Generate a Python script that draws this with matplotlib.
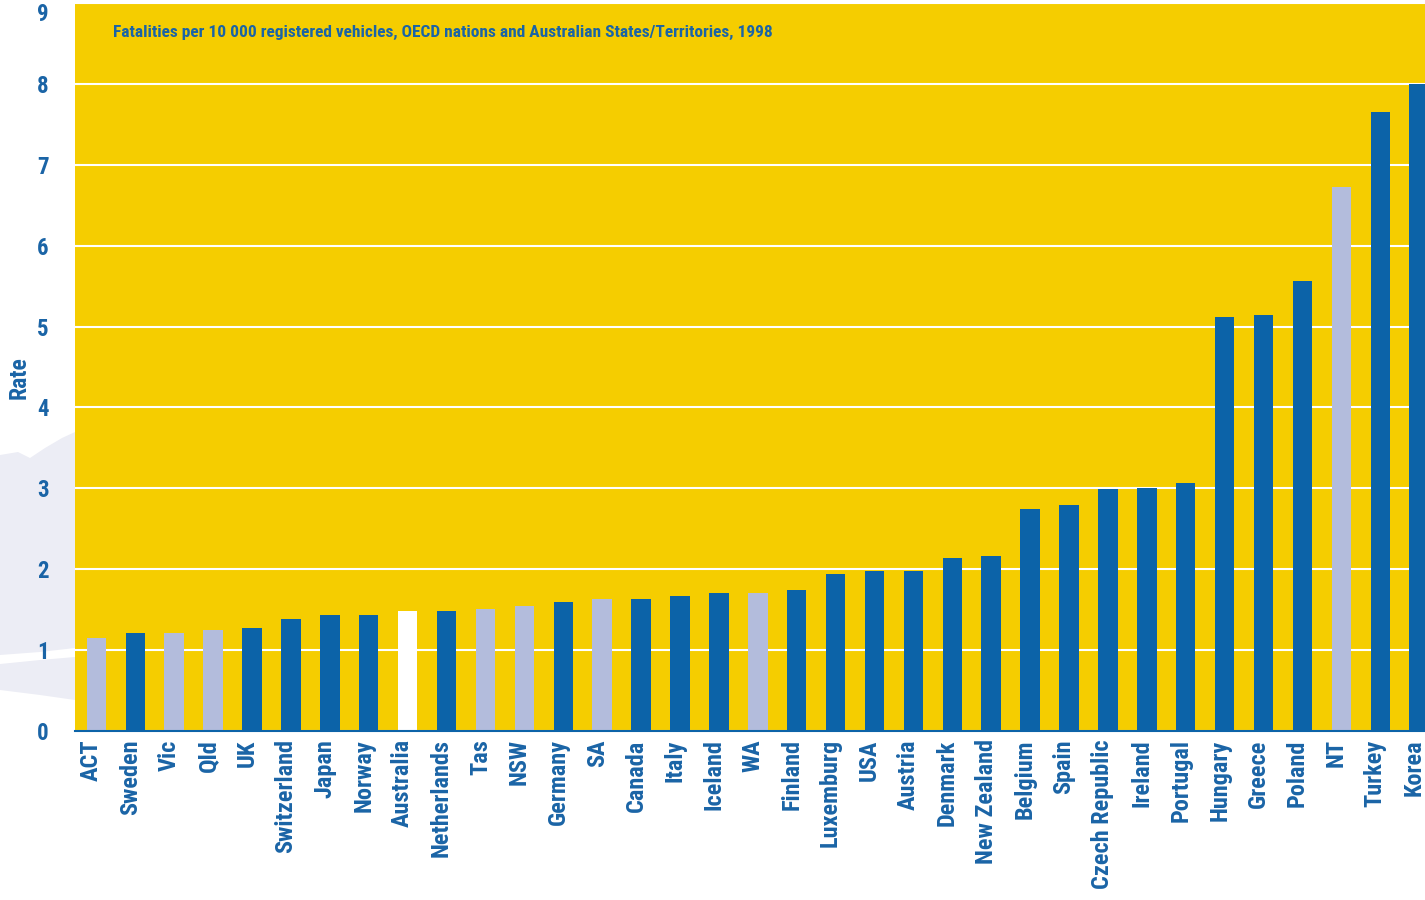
import numpy as np
import matplotlib.pyplot as plt
import matplotlib.transforms as mtransforms
from matplotlib import font_manager
from matplotlib.patches import Polygon

countries = ["ACT", "Sweden", "Vic", "Qld", "UK", "Switzerland", "Japan", "Norway",
             "Australia", "Netherlands", "Tas", "NSW", "Germany", "SA", "Canada", "Italy",
             "Iceland", "WA", "Finland", "Luxemburg", "USA", "Austria", "Denmark",
             "New Zealand", "Belgium", "Spain", "Czech Republic", "Ireland", "Portugal",
             "Hungary", "Greece", "Poland", "NT", "Turkey", "Korea"]
rates = [1.15, 1.21, 1.21, 1.25, 1.27, 1.38, 1.43, 1.43, 1.48, 1.48, 1.51, 1.55, 1.59,
         1.63, 1.63, 1.67, 1.70, 1.70, 1.74, 1.94, 1.98, 1.98, 2.14, 2.16, 2.74, 2.80,
         2.99, 3.01, 3.06, 5.12, 5.14, 5.56, 6.73, 7.65, 8.0]
# 'state' = Australian state/territory, 'aus' = national total, 'oecd' = other
groups = ["state", "oecd", "state", "state", "oecd", "oecd", "oecd", "oecd",
          "aus", "oecd", "state", "state", "oecd", "state", "oecd", "oecd",
          "oecd", "state", "oecd", "oecd", "oecd", "oecd", "oecd",
          "oecd", "oecd", "oecd", "oecd", "oecd", "oecd",
          "oecd", "oecd", "oecd", "state", "oecd", "oecd"]

title = "Fatalities per 10 000 registered vehicles, OECD nations and Australian States/Territories, 1998"

blue = "#0c63a8"
text_blue = "#1a64a6"
colors = {"oecd": blue, "state": "#b3bcdc", "aus": "white"}
yellow = "#f5cd00"

# look for a narrow/condensed bold face, since the original uses one
names = {f.name for f in font_manager.fontManager.ttflist}
picked = None
for cand in ["Roboto Condensed", "Liberation Sans Narrow", "Open Sans Condensed",
             "DejaVu Sans Condensed"]:
    if cand in names:
        picked = cand
        break
stretch = "normal"
if picked is None:
    picked = "DejaVu Sans"
    stretch = "condensed"
plt.rcParams['font.family'] = [picked, "DejaVu Sans"]
plt.rcParams['font.stretch'] = stretch

fig = plt.figure(figsize=(14.25, 9), dpi=100)

# faint lavender watermark swoosh behind the left margin
W, H = 1425, 900
swoosh = [(0, 455), (18, 452), (30, 458), (45, 448), (62, 438), (75, 432),
          (75, 648), (40, 652), (0, 655)]
fig.patches.append(Polygon([(px / W, 1 - py / H) for px, py in swoosh],
                           closed=True, transform=fig.transFigure,
                           facecolor="#ecedf5", edgecolor="none", zorder=0))
swoosh2 = [(0, 664), (40, 660), (75, 657), (75, 700), (40, 695), (0, 690)]
fig.patches.append(Polygon([(px / W, 1 - py / H) for px, py in swoosh2],
                           closed=True, transform=fig.transFigure,
                           facecolor="#ecedf5", edgecolor="none", zorder=0))

ax = fig.add_axes([75 / W, 1 - 731 / H, 1 - 75 / W, (731 - 3) / H])
ax.set_zorder(2)
ax.set_facecolor(yellow)

x = np.arange(len(countries))
ax.bar(x, rates, width=0.5, color=[colors[g] for g in groups], zorder=3)

ax.set_xlim(-0.55, 34.15)
ax.set_ylim(0, 9)
ax.set_yticks(range(10))
ax.yaxis.grid(True, color="white", linewidth=1.5, zorder=1)
ax.set_axisbelow(True)

for s in ["top", "right", "left"]:
    ax.spines[s].set_visible(False)
ax.spines["bottom"].set_color(blue)
ax.spines["bottom"].set_linewidth(1.5)
ax.spines["bottom"].set_zorder(4)

ax.set_xticks(x)
ax.set_xticklabels(countries, rotation=90, fontsize=17.5, fontweight="heavy", color=text_blue)
ax.tick_params(axis="x", length=0, pad=6)
shift = mtransforms.ScaledTranslation(-5 / 100, 0, fig.dpi_scale_trans)
for lbl in ax.get_xticklabels():
    lbl.set_transform(lbl.get_transform() + shift)

ax.tick_params(axis="y", length=0, pad=19, labelsize=16.5, labelcolor=text_blue)
for lbl in ax.get_yticklabels():
    lbl.set_fontweight("heavy")
    if lbl.get_text() == "9":
        lbl.set_verticalalignment("top")

ax.set_ylabel("Rate", fontsize=17, fontweight="heavy", color=text_blue)
ax.yaxis.set_label_coords(-0.0326, 0.486)

ax.text(0.028, 0.96, title, transform=ax.transAxes, fontsize=12.5, fontweight="bold",
        color=text_blue, va="center", ha="left")

fig.savefig("out.png", dpi=100, facecolor="white")
